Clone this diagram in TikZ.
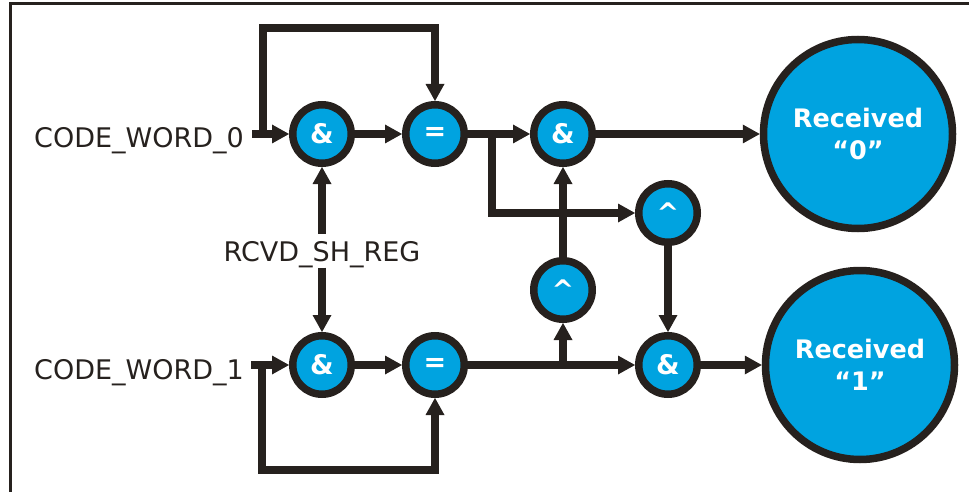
\documentclass[tikz,border=0pt]{standalone}
\usepackage{fontspec}
\setmainfont{DejaVu Sans}
\usetikzlibrary{arrows.meta}
\definecolor{ink}{RGB}{38,33,30}
\definecolor{cyanb}{RGB}{0,163,224}
\begin{document}
\begin{tikzpicture}[x=1pt,y=-1pt,
  gate/.style={circle,draw=ink,fill=cyanb,line width=7.5pt,minimum size=58.5pt,inner sep=0pt,
    text=white,font=\bfseries\fontsize{27}{30}\selectfont},
  big/.style={circle,draw=ink,fill=cyanb,line width=7.5pt,minimum size=189pt,inner sep=0pt,
    text=white,align=center,font=\bfseries\fontsize{25.5}{32}\selectfont},
  lbl/.style={text=ink,inner sep=0pt,font=\fontsize{27}{32}\selectfont},
  wire/.style={draw=ink,line width=7.5pt,line join=miter},
  arr/.style={wire,-{Triangle[length=17pt,width=19pt,line width=0pt]}}]
\useasboundingbox (0,0) rectangle (969,492);
\draw[ink,line width=3pt] (10.5,492) -- (10.5,4) -- (969,4);
% nodes
\node[gate] (and0) at (322,134) {\&};
\node[gate] (eq0) at (435,134) {=};
\node[gate] (and0b) at (563,134) {\&};
\node[big] (rx0) at (858,134) {Received\\“0”};
\node[gate] (xt) at (668,213) {\textasciicircum};
\node[gate] (xb) at (563,290) {\textasciicircum};
\node[gate] (and1) at (322,365) {\&};
\node[gate] (eq1) at (435,365) {=};
\node[gate] (and1b) at (668,365) {\&};
\node[big] (rx1) at (860,365) {Received\\“1”};
\node[lbl,anchor=base east] (cw0) at (244,147) {CODE\_WORD\_0};
\node[lbl,anchor=base east] (cw1) at (244,379) {CODE\_WORD\_1};
\node[lbl,anchor=base] (rcvd) at (322,261) {RCVD\_SH\_REG};
% coordinates
\coordinate (in0) at (252,134);
\coordinate (j0) at (263,134);
\coordinate (t0) at (435,28);
\coordinate (b0) at (492,134);
\coordinate (in1) at (251,365);
\coordinate (j1) at (262,365);
\coordinate (t1) at (435,470);
\coordinate (b1) at (563,365);
% connectors
\draw[arr] (in0) -- (and0);
\draw[arr] (j0) |- (t0) -- (eq0);
\draw[arr] (and0) -- (eq0);
\draw[arr] (eq0) -- (and0b);
\draw[arr] (b0) |- (xt);
\draw[arr] (and0b) -- (rx0);
\draw[arr] (xb) -- (and0b);
\draw[arr] (xt) -- (and1b);
\draw[arr] ([yshift=7pt]rcvd.north) -- (and0);
\draw[arr] (rcvd.south) -- (and1);
\draw[arr] (in1) -- (and1);
\draw[arr] (j1) |- (t1) -- (eq1);
\draw[arr] (and1) -- (eq1);
\draw[arr] (eq1) -- (and1b);
\draw[arr] (b1) -- (xb);
\draw[arr] (and1b) -- (rx1);
\end{tikzpicture}
\end{document}
